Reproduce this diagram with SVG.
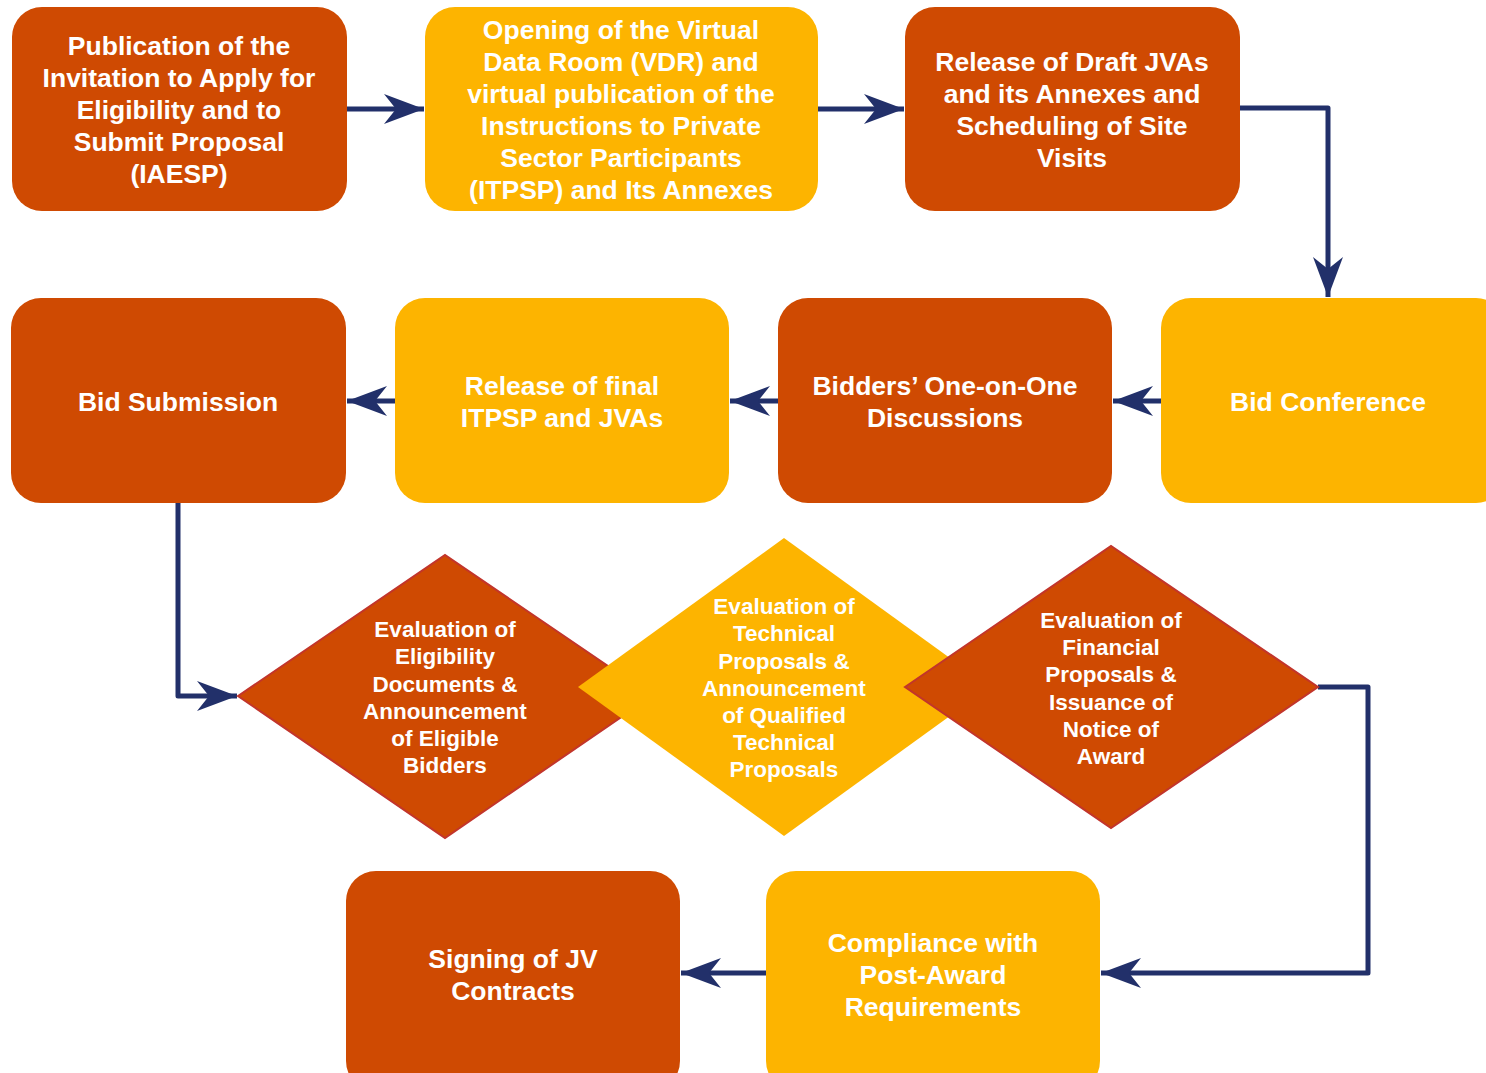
<svg xmlns="http://www.w3.org/2000/svg" width="1486" height="1073" viewBox="0 0 1486 1073">
<defs>
<style>
.o{fill:#cf4a02}
.y{fill:#fdb400}
.od{fill:#cf4a02;stroke:#c2352b;stroke-width:2}
.yd{fill:#fdb400}
.t{font-family:"Liberation Sans",Arial,sans-serif;font-weight:bold;font-size:26.5px;fill:#fff;text-anchor:middle}
.d{font-family:"Liberation Sans",Arial,sans-serif;font-weight:bold;font-size:22.5px;fill:#fff;text-anchor:middle}
.c{fill:none;stroke:#22306a;stroke-width:5;stroke-linejoin:round}
</style>
<marker id="ah" markerWidth="42" markerHeight="32" viewBox="0 0 42 32" refX="40" refY="16" markerUnits="userSpaceOnUse" orient="auto">
<path d="M40,16 L0,1 L12,16 L0,31 Z" fill="#22306a"/>
</marker>
</defs>
<rect width="1486" height="1073" fill="#fff"/>
<g id="connectors">
<path class="c" d="M347,109 H424" marker-end="url(#ah)"/>
<path class="c" d="M818,109 H904" marker-end="url(#ah)"/>
<path class="c" d="M1240,108 H1328 V297" marker-end="url(#ah)"/>
<path class="c" d="M1161,401 H1113" marker-end="url(#ah)"/>
<path class="c" d="M778,401 H730" marker-end="url(#ah)"/>
<path class="c" d="M395,401 H347" marker-end="url(#ah)"/>
<path class="c" d="M178,503 V696 H237" marker-end="url(#ah)"/>
<path class="c" d="M1318,687 H1368 V973 H1101" marker-end="url(#ah)"/>
<path class="c" d="M766,973 H681" marker-end="url(#ah)"/>
</g>
<g id="n1"><rect class="o" x="12" y="7" width="335" height="204" rx="30"/>
<text class="t"><tspan x="179" y="55">Publication of the</tspan><tspan x="179" y="87">Invitation to Apply for</tspan><tspan x="179" y="119">Eligibility and to</tspan><tspan x="179" y="151">Submit Proposal</tspan><tspan x="179" y="183">(IAESP)</tspan></text></g>
<g id="n2"><rect class="y" x="425" y="7" width="393" height="204" rx="30"/>
<text class="t"><tspan x="621" y="39">Opening of the Virtual</tspan><tspan x="621" y="71">Data Room (VDR) and</tspan><tspan x="621" y="103">virtual publication of the</tspan><tspan x="621" y="135">Instructions to Private</tspan><tspan x="621" y="167">Sector Participants</tspan><tspan x="621" y="199">(ITPSP) and Its Annexes</tspan></text></g>
<g id="n3"><rect class="o" x="905" y="7" width="335" height="204" rx="30"/>
<text class="t"><tspan x="1072" y="71">Release of Draft JVAs</tspan><tspan x="1072" y="103">and its Annexes and</tspan><tspan x="1072" y="135">Scheduling of Site</tspan><tspan x="1072" y="167">Visits</tspan></text></g>
<g id="n4"><rect class="y" x="1161" y="298" width="345" height="205" rx="30"/>
<text class="t" x="1328" y="411">Bid Conference</text></g>
<g id="n5"><rect class="o" x="778" y="298" width="334" height="205" rx="30"/>
<text class="t"><tspan x="945" y="395">Bidders’ One-on-One</tspan><tspan x="945" y="427">Discussions</tspan></text></g>
<g id="n6"><rect class="y" x="395" y="298" width="334" height="205" rx="30"/>
<text class="t"><tspan x="562" y="395">Release of final</tspan><tspan x="562" y="427">ITPSP and JVAs</tspan></text></g>
<g id="n7"><rect class="o" x="11" y="298" width="335" height="205" rx="30"/>
<text class="t" x="178" y="411">Bid Submission</text></g>
<g id="n8"><polygon class="od" points="238,696 445,555 652,696 445,838"/>
<text class="d"><tspan x="445" y="637">Evaluation of</tspan><tspan x="445" y="664">Eligibility</tspan><tspan x="445" y="692">Documents &amp;</tspan><tspan x="445" y="719">Announcement</tspan><tspan x="445" y="746">of Eligible</tspan><tspan x="445" y="773">Bidders</tspan></text></g>
<g id="n9"><polygon class="yd" points="578,687 784,538 990,687 784,836"/>
<text class="d"><tspan x="784" y="614">Evaluation of</tspan><tspan x="784" y="641">Technical</tspan><tspan x="784" y="669">Proposals &amp;</tspan><tspan x="784" y="696">Announcement</tspan><tspan x="784" y="723">of Qualified</tspan><tspan x="784" y="750">Technical</tspan><tspan x="784" y="777">Proposals</tspan></text></g>
<g id="n10"><polygon class="od" points="905,687 1111,546 1318,687 1111,828"/>
<text class="d"><tspan x="1111" y="628">Evaluation of</tspan><tspan x="1111" y="655">Financial</tspan><tspan x="1111" y="682">Proposals &amp;</tspan><tspan x="1111" y="710">Issuance of</tspan><tspan x="1111" y="737">Notice of</tspan><tspan x="1111" y="764">Award</tspan></text></g>
<g id="n11"><rect class="y" x="766" y="871" width="334" height="220" rx="30"/>
<text class="t"><tspan x="933" y="952">Compliance with</tspan><tspan x="933" y="984">Post-Award</tspan><tspan x="933" y="1016">Requirements</tspan></text></g>
<g id="n12"><rect class="o" x="346" y="871" width="334" height="220" rx="30"/>
<text class="t"><tspan x="513" y="968">Signing of JV</tspan><tspan x="513" y="1000">Contracts</tspan></text></g>
</svg>
